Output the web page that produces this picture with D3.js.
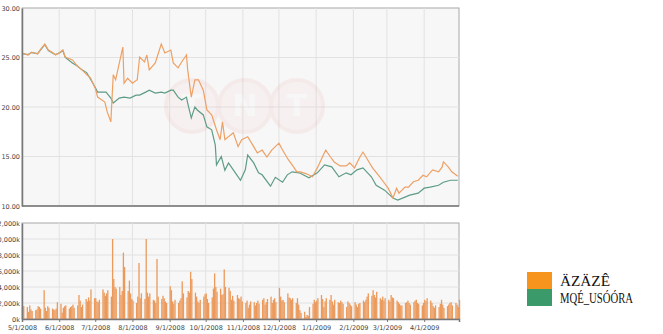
<!DOCTYPE html>
<html>
<head>
<meta charset="utf-8">
<script src="https://cdn.jsdelivr.net/npm/d3@7"></script>
<style>
  body { margin: 0; background: #fff; }
  svg { display: block; }
  .tick text { font-family: "DejaVu Sans", sans-serif; fill: #444; }
</style>
</head>
<body>
<script>
'use strict';

// price lines: sample dates and closing values
const orangeDates = ["5/1/2008","5/6/2008","5/9/2008","5/14/2008","5/16/2008","5/20/2008","5/23/2008","5/27/2008","5/29/2008",
  "6/2/2008","6/4/2008","6/6/2008","6/12/2008","6/16/2008","6/20/2008","6/24/2008","6/27/2008",
  "7/1/2008","7/3/2008","7/9/2008","7/11/2008","7/14/2008","7/16/2008","7/18/2008","7/22/2008","7/24/2008","7/25/2008","7/28/2008",
  "8/1/2008","8/5/2008","8/7/2008","8/11/2008","8/13/2008","8/15/2008","8/20/2008","8/25/2008","8/28/2008",
  "9/2/2008","9/4/2008","9/8/2008","9/11/2008","9/15/2008","9/16/2008","9/19/2008","9/22/2008","9/25/2008","9/29/2008",
  "10/2/2008","10/6/2008","10/10/2008","10/13/2008","10/15/2008","10/17/2008","10/24/2008","10/28/2008","10/31/2008",
  "11/5/2008","11/10/2008","11/13/2008","11/17/2008","11/21/2008","11/25/2008",
  "12/1/2008","12/4/2008","12/9/2008","12/12/2008","12/16/2008","12/19/2008","12/24/2008","12/29/2008",
  "1/2/2009","1/7/2009","1/9/2009","1/13/2009","1/16/2009","1/21/2009","1/26/2009","1/29/2009",
  "2/2/2009","2/6/2009","2/9/2009","2/13/2009","2/17/2009","2/23/2009","2/26/2009",
  "3/2/2009","3/6/2009","3/9/2009","3/11/2009","3/16/2009","3/19/2009","3/23/2009","3/27/2009","3/31/2009",
  "4/3/2009","4/8/2009","4/13/2009","4/16/2009","4/17/2009","4/21/2009","4/24/2009","4/29/2009"];
const orangeValues = [25.45,25.25,25.55,25.35,25.75,26.35,25.75,25.45,25.25,
  25.55,25.75,25.05,24.75,24.15,23.75,23.25,22.95,
  21.9,21.0,20.5,19.5,18.5,23.25,22.75,24.95,26.05,22.4,22.9,
  22.4,22.75,25.05,24.55,25.25,23.75,24.45,26.35,25.45,
  25.75,24.45,23.95,24.55,25.25,23.75,21.0,22.75,22.75,21.7,
  19.7,19.2,17.7,16.7,18.5,16.7,17.4,16.0,16.7,
  17.0,16.0,15.35,15.65,14.95,15.65,
  16.35,15.65,14.65,14.15,13.45,13.45,13.25,12.95,
  13.85,15.15,15.65,14.95,14.45,14.05,14.05,14.35,
  13.85,14.85,15.45,14.65,13.85,12.95,12.45,
  11.8,10.8,11.8,11.3,11.9,11.9,12.45,12.6,13.1,
  12.95,13.65,13.45,13.95,14.45,13.95,13.45,13.0];

const greenDates = ["5/1/2008","5/6/2008","5/9/2008","5/14/2008","5/16/2008","5/20/2008","5/23/2008","5/27/2008","5/29/2008",
  "6/2/2008","6/4/2008","6/6/2008","6/12/2008","6/16/2008","6/20/2008","6/24/2008","6/30/2008",
  "7/3/2008","7/10/2008","7/14/2008","7/16/2008","7/21/2008","7/25/2008","7/30/2008",
  "8/4/2008","8/7/2008","8/12/2008","8/15/2008","8/20/2008","8/25/2008","8/28/2008",
  "9/2/2008","9/4/2008","9/8/2008","9/11/2008","9/15/2008","9/16/2008","9/19/2008","9/22/2008","9/24/2008","9/29/2008",
  "10/2/2008","10/6/2008","10/9/2008","10/10/2008","10/14/2008","10/17/2008","10/20/2008","10/24/2008","10/30/2008",
  "11/3/2008","11/5/2008","11/10/2008","11/14/2008","11/17/2008","11/24/2008","11/28/2008",
  "12/4/2008","12/8/2008","12/12/2008","12/18/2008","12/26/2008",
  "1/2/2009","1/8/2009","1/14/2009","1/20/2009","1/26/2009","1/30/2009",
  "2/4/2009","2/9/2009","2/16/2009","2/20/2009","2/27/2009",
  "3/6/2009","3/10/2009","3/16/2009","3/20/2009","3/27/2009",
  "4/1/2009","4/6/2009","4/13/2009","4/17/2009","4/23/2009","4/29/2009"];
const greenValues = [25.4,25.3,25.5,25.4,25.7,26.3,25.7,25.4,25.3,
  25.5,25.7,25.0,24.45,24.15,23.75,23.45,22.2,
  21.5,21.5,20.9,20.4,20.9,21.0,20.9,
  21.2,21.2,21.5,21.7,21.4,21.5,21.4,
  21.7,21.7,21.0,20.7,21.0,20.4,18.9,20.0,19.7,19.2,
  18.0,17.7,16.15,14.15,15.0,13.6,14.35,13.65,12.6,
  13.65,15.15,14.35,13.35,13.15,12.0,12.9,
  12.4,13.15,13.45,13.35,12.85,
  13.35,14.15,13.95,12.95,13.35,13.15,
  13.65,13.85,12.95,12.1,11.6,
  10.8,10.6,10.9,11.1,11.3,
  11.8,11.9,12.1,12.4,12.6,12.6];

// daily volume (thousands), one value per weekday, by month
const volMay08 = [1700,1600,1500,900,1700,1200,1000,1100,1200,1600,1500,1300,3600,1400,1000,1600,1400,1300,1200,1100,1300,2100];
const volJun08 = [1900,800,1400,1600,1700,1300,1500,1600,1800,1400,1700,3000,2300,1500,1800,2500,2200,2700,2300,3700,2600];
const volJul08 = [2600,2200,2100,2400,3700,3300,2900,3200,3600,2800,10000,5000,4000,3800,4000,3000,3500,8300,6500,3500,4800,3200,2500];
const volAug08 = [2300,2000,2800,7000,2600,3200,2500,10000,3300,2800,3200,2400,2300,2000,7500,2800,2500,2900,2600,2200,2000];
const volSep08 = [4100,3600,2200,1900,2400,2000,2300,2600,4700,3200,2700,3500,3300,5900,5000,3300,2800,2200,2000,2400,2800,3100];
const volOct08 = [3200,2500,2000,2700,3800,5700,4000,3400,3800,3000,3100,6200,4000,3900,3500,2400,2900,2300,3000,2600,2500,2800,2200];
const volNov08 = [2000,2300,1400,1800,2200,2100,1700,2000,2300,1900,2400,2600,1800,2100,2500,2800,2000,2400,2600,2100];
const volDec08 = [3900,2800,2300,2400,2100,3200,2700,2600,2400,2600,2000,2600,1800,1100,750,900,250,500,400,1500,1900,2400,2100];
const volJan09 = [2300,2600,3000,2500,1500,2200,2600,2400,3000,2200,1800,2400,2100,2000,2300,2100,1900,1500,2200,2000,1800,1600];
const volFeb09 = [2100,1800,1500,1900,2000,2300,2100,2400,2800,3200,2900,3600,3000,2700,3400,2600,2400,2800,2300,2600];
const volMar09 = [2400,2200,3000,2700,2600,2300,2100,1900,1700,1700,2000,2100,2300,2000,1800,2100,2300,2400,2000,1900,1700,2000];
const volApr09 = [2400,2200,2600,2300,2000,1600,1400,1700,1500,1900,2400,1800,1400,1600,1800,2000,2100,1700,2000,1800,1500,2400];

const priceTicks = [10, 15, 20, 25, 30];
const volumeTicks = [0, 2000, 4000, 6000, 8000, 10000, 12000];
const legendLabels = ["ÄZÄZÊ", "MQÉ_USÓÓRA"];
const legendColors = ["#f7941d", "#3a9a6a"];

const W = 663, H = 334;
const parse = d3.timeParse("%m/%d/%Y");
const startDate = new Date(2008, 4, 1), endDate = new Date(2009, 3, 30);

const svg = d3.select("body").append("svg").attr("width", W).attr("height", H);

const x = d3.scaleTime().domain([startDate, endDate]).range([22, 459]);
const yP = d3.scaleLinear().domain([10, 30]).range([206, 8]);
const yV = d3.scaleLinear().domain([0, 12000]).range([319, 223]);
const months = d3.timeMonth.range(startDate, endDate);

// build volume rows on weekdays
const volAll = [].concat(volMay08, volJun08, volJul08, volAug08, volSep08, volOct08,
  volNov08, volDec08, volJan09, volFeb09, volMar09, volApr09);
const weekdays = d3.timeDay.range(startDate, d3.timeDay.offset(endDate, 1))
  .filter(d => d.getDay() !== 0 && d.getDay() !== 6);
const volume = weekdays.slice(0, volAll.length).map((d, i) => ({date: d, v: volAll[i]}));

function panel(top, bottom) {
  const g = svg.append("g");
  g.append("rect").attr("x", 22).attr("y", top).attr("width", 437).attr("height", bottom - top)
    .attr("fill", "#f7f7f7").attr("stroke", "#a8a8a8").attr("stroke-width", 1);
  g.selectAll(".vg").data(months.slice(1)).enter().append("line")
    .attr("x1", d => x(d)).attr("x2", d => x(d)).attr("y1", top).attr("y2", bottom)
    .attr("stroke", "#e2e2e2").attr("stroke-width", 1);
  return g;
}

// ---- price panel
const gp = panel(8, 206);
gp.selectAll(".hg").data(priceTicks.slice(1, -1)).enter().append("line")
  .attr("x1", 22).attr("x2", 459).attr("y1", d => yP(d)).attr("y2", d => yP(d))
  .attr("stroke", "#e2e2e2");

// faint watermark logo
const logo = svg.append("g").attr("opacity", 0.07);
[["T", 192], ["N", 245], ["T", 297]].forEach(([c, cx]) => {
  logo.append("circle").attr("cx", cx).attr("cy", 106).attr("r", 26)
    .attr("fill", "#f5a0a0").attr("stroke", "#e85050").attr("stroke-width", 4);
  logo.append("text").attr("x", cx).attr("y", 116).attr("text-anchor", "middle")
    .attr("font-family", "DejaVu Sans").attr("font-weight", "bold").attr("font-size", 30)
    .attr("fill", "#ffffff").text(c);
});

const line = d3.line().x(d => x(d[0])).y(d => yP(d[1]));
svg.append("path").datum(greenDates.map((d, i) => [parse(d), greenValues[i]]))
  .attr("d", line).attr("fill", "none").attr("stroke", "#5f9c86").attr("stroke-width", 1.2);
svg.append("path").datum(orangeDates.map((d, i) => [parse(d), orangeValues[i]]))
  .attr("d", line).attr("fill", "none").attr("stroke", "#eea064").attr("stroke-width", 1.2);

svg.append("g").attr("transform", "translate(22,0)")
  .call(d3.axisLeft(yP).tickValues(priceTicks).tickSize(0).tickPadding(2).tickFormat(d3.format(".2f")))
  .call(g => g.select(".domain").attr("stroke", "#777").attr("stroke-width", 1.5))
  .call(g => g.selectAll("text").attr("font-size", 6.5));
svg.append("line").attr("x1", 22).attr("x2", 459).attr("y1", 206).attr("y2", 206)
  .attr("stroke", "#777").attr("stroke-width", 1.5);

// ---- volume panel
const gv = panel(223, 319);
gv.selectAll(".hg").data(volumeTicks.slice(1, -1)).enter().append("line")
  .attr("x1", 22).attr("x2", 459).attr("y1", d => yV(d)).attr("y2", d => yV(d))
  .attr("stroke", "#e2e2e2");

svg.append("g").selectAll("rect").data(volume).enter().append("rect")
  .attr("x", d => x(d.date) - 0.1)
  .attr("y", d => yV(d.v))
  .attr("width", 1.3)
  .attr("height", d => yV(0) - yV(d.v))
  .attr("fill", "#eb9a5c");

svg.append("g").attr("transform", "translate(22,0)")
  .call(d3.axisLeft(yV).tickValues(volumeTicks).tickSize(0).tickPadding(2)
    .tickFormat(d => d3.format(",")(d) + "k"))
  .call(g => g.select(".domain").attr("stroke", "#777").attr("stroke-width", 1.5))
  .call(g => g.selectAll("text").attr("font-size", 6.5));

svg.append("g").attr("transform", "translate(0,319)")
  .call(d3.axisBottom(x).tickValues(months).tickSize(3).tickPadding(3)
    .tickFormat(d3.timeFormat("%-m/%-d/%Y")))
  .call(g => g.select(".domain").attr("stroke", "#777").attr("stroke-width", 1.5))
  .call(g => g.selectAll(".tick line").attr("stroke", "#777"))
  .call(g => g.selectAll("text").attr("font-size", 6.5));

// ---- legend
const leg = svg.append("g").attr("transform", "translate(527,272)");
legendLabels.forEach((t, i) => {
  leg.append("rect").attr("x", 0).attr("y", i * 17).attr("width", 25).attr("height", 17)
    .attr("fill", legendColors[i]);
  leg.append("text").attr("x", 33).attr("y", 14 + i * 17)
    .attr("font-family", "Liberation Serif").attr("font-size", 15).attr("fill", "#111")
    .attr("textLength", i === 0 ? 50 : 73).attr("lengthAdjust", "spacingAndGlyphs")
    .text(t);
});
</script>
</body>
</html>
